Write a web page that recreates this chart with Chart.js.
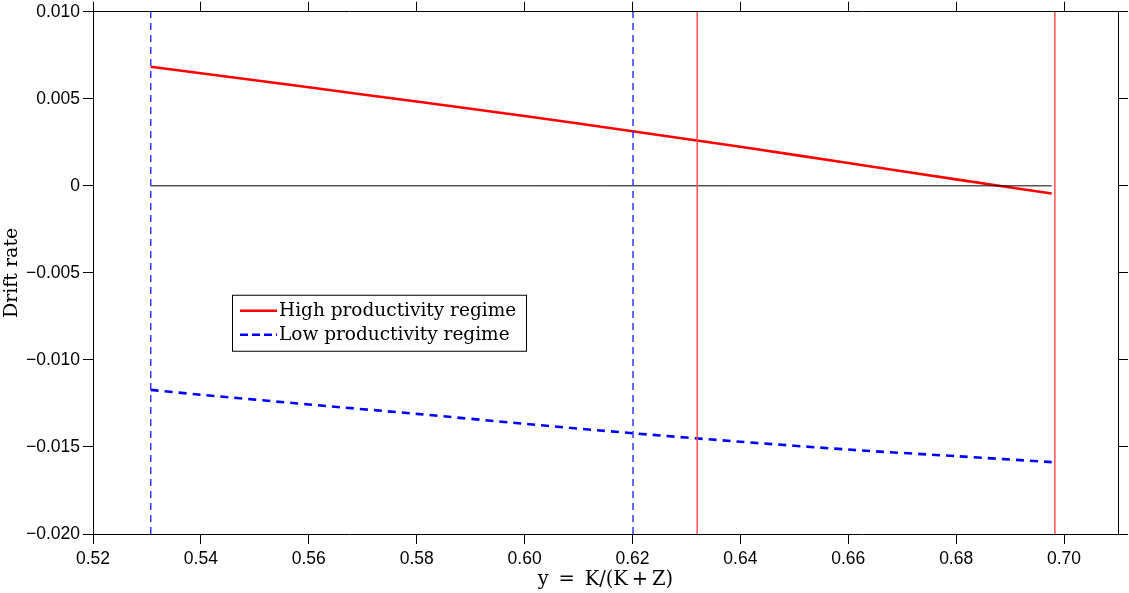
<!DOCTYPE html>
<html>
<head>
<meta charset="utf-8">
<script src="https://cdn.jsdelivr.net/npm/chart.js@4/dist/chart.umd.min.js"></script>
<style>
html,body{margin:0;padding:0;background:#fff;}
canvas{display:block;}
</style>
</head>
<body>
<canvas id="c" width="1129" height="593"></canvas>
<script>
// ---- data ----
const yGrid = [0.5307, 0.54, 0.56, 0.58, 0.60, 0.62, 0.64, 0.66, 0.68, 0.6977];
const driftHigh = [0.00684, 0.00647, 0.00566, 0.00484, 0.00401, 0.00314, 0.00224, 0.00131, 0.00037, -0.00044];
const driftLow = [-0.01172, -0.01200, -0.01256, -0.01310, -0.01367, -0.01421, -0.01470, -0.01515, -0.01553, -0.01587];
const lowThresholds = [0.5307, 0.6201];
const highThresholds = [0.6320, 0.6983];
const zeroLineX = [0.5307, 0.6977];
const xTicks = [0.52, 0.54, 0.56, 0.58, 0.60, 0.62, 0.64, 0.66, 0.68, 0.70];
const xTickLabels = ['0.52', '0.54', '0.56', '0.58', '0.60', '0.62', '0.64', '0.66', '0.68', '0.70'];
const yTicks = [0.010, 0.005, 0, -0.005, -0.010, -0.015, -0.020];
const yTickLabels = ['0.010', '0.005', '0', '\u22120.005', '\u22120.010', '\u22120.015', '\u22120.020'];
const xRange = [0.52, 0.71];
const yRange = [-0.020, 0.010];
const legendLabels = ['High productivity regime', 'Low productivity regime'];
const xTitle = 'y\u2002=\u2002K/(K\u2009+\u2009Z)';
const yTitle = 'Drift rate';

const pts = (xs, ys) => xs.map((x, i) => ({x: x, y: ys[i]}));
const vline = (x) => [{x: x, y: yRange[0]}, {x: x, y: yRange[1]}];

const datasets = [];
lowThresholds.forEach(t => datasets.push({data: vline(t), borderColor: '#3333ff', borderWidth: 1.5, borderDash: [7, 5], pointRadius: 0}));
highThresholds.forEach(t => datasets.push({data: vline(t), borderColor: '#ff5050', borderWidth: 1.5, pointRadius: 0}));
datasets.push({data: pts(zeroLineX, [0, 0]), borderColor: '#000', borderWidth: 1, pointRadius: 0});
datasets.push({label: legendLabels[0], data: pts(yGrid, driftHigh), borderColor: '#ff0000', borderWidth: 2.6, pointRadius: 0, tension: 0.3});
datasets.push({label: legendLabels[1], data: pts(yGrid, driftLow), borderColor: '#0000ff', borderWidth: 2.6, borderDash: [8, 6], pointRadius: 0, tension: 0.3});

const tickFont = {family: '"Liberation Sans", Arial, sans-serif', size: 17.5, lineHeight: 1.0};
const serif = '"DejaVu Serif", "Liberation Serif", serif';

const legendPlugin = {
  id: 'boxLegend',
  afterDraw(chart) {
    const ctx = chart.ctx;
    const ca = chart.chartArea;
    const bx = ca.left + 139, by = ca.top + 283, bw = 294, bh = 56;
    ctx.save();
    ctx.fillStyle = '#fff';
    ctx.fillRect(bx, by, bw, bh);
    ctx.strokeStyle = '#000';
    ctx.lineWidth = 1;
    ctx.strokeRect(bx + 0.5, by + 0.5, bw, bh);
    const rows = [{c: '#ff0000', dash: [], y: by + 16}, {c: '#0000ff', dash: [8, 4], y: by + 40}];
    ctx.font = '18.5px ' + serif;
    ctx.textBaseline = 'middle';
    rows.forEach((r, i) => {
      ctx.beginPath();
      ctx.setLineDash(r.dash);
      ctx.strokeStyle = r.c;
      ctx.lineWidth = 2.6;
      ctx.moveTo(bx + 8, r.y);
      ctx.lineTo(bx + 45, r.y);
      ctx.stroke();
      ctx.setLineDash([]);
      ctx.fillStyle = '#000';
      ctx.fillText(legendLabels[i], bx + 47, r.y);
    });
    ctx.restore();
  }
};

const setTicks = (vals) => (s) => { s.ticks = vals.map(v => ({value: v})); };

new Chart(document.getElementById('c'), {
  type: 'line',
  data: {datasets: datasets},
  options: {
    responsive: false,
    animation: false,
    events: [],
    layout: {padding: 0},
    plugins: {legend: {display: false}, tooltip: {enabled: false}},
    scales: {
      x: {
        type: 'linear', position: 'bottom', min: xRange[0], max: xRange[1],
        afterBuildTicks: setTicks(xTicks),
        afterFit: (s) => { s.height = 59; },
        grid: {drawOnChartArea: false, drawTicks: true, tickLength: 10, color: '#000'},
        border: {display: true, color: '#000', width: 1},
        ticks: {font: tickFont, color: '#000', padding: 6, maxRotation: 0, autoSkip: false,
          callback: (v) => { const i = xTicks.findIndex(t => Math.abs(t - v) < 1e-9); return i >= 0 ? xTickLabels[i] : ''; }},
        title: {display: true, text: xTitle, font: {family: serif, size: 19.5}, color: '#000', padding: {top: 2, bottom: 1}}
      },
      x2: {
        type: 'linear', position: 'top', min: xRange[0], max: xRange[1],
        afterBuildTicks: setTicks(xTicks),
        afterFit: (s) => { s.height = 11; },
        grid: {drawOnChartArea: false, drawTicks: true, tickLength: 10, color: '#000'},
        border: {display: true, color: '#000', width: 1},
        ticks: {display: false}
      },
      y: {
        type: 'linear', position: 'left', min: yRange[0], max: yRange[1],
        afterBuildTicks: setTicks(yTicks),
        afterFit: (s) => { s.width = 93; },
        grid: {drawOnChartArea: false, drawTicks: true, tickLength: 10, color: '#000'},
        border: {display: true, color: '#000', width: 1},
        ticks: {font: tickFont, color: '#000', padding: 3, autoSkip: false,
          callback: (v) => { const i = yTicks.findIndex(t => Math.abs(t - v) < 1e-9); return i >= 0 ? yTickLabels[i] : ''; }},
        title: {display: true, text: yTitle, font: {family: serif, size: 19}, color: '#000', padding: {top: 1, bottom: 0}}
      },
      y2: {
        type: 'linear', position: 'right', min: yRange[0], max: yRange[1],
        afterBuildTicks: setTicks(yTicks),
        afterFit: (s) => { s.width = 11; },
        grid: {drawOnChartArea: false, drawTicks: true, tickLength: 10, color: '#000'},
        border: {display: true, color: '#000', width: 1},
        ticks: {display: false}
      }
    }
  },
  plugins: [legendPlugin]
});
</script>
</body>
</html>
